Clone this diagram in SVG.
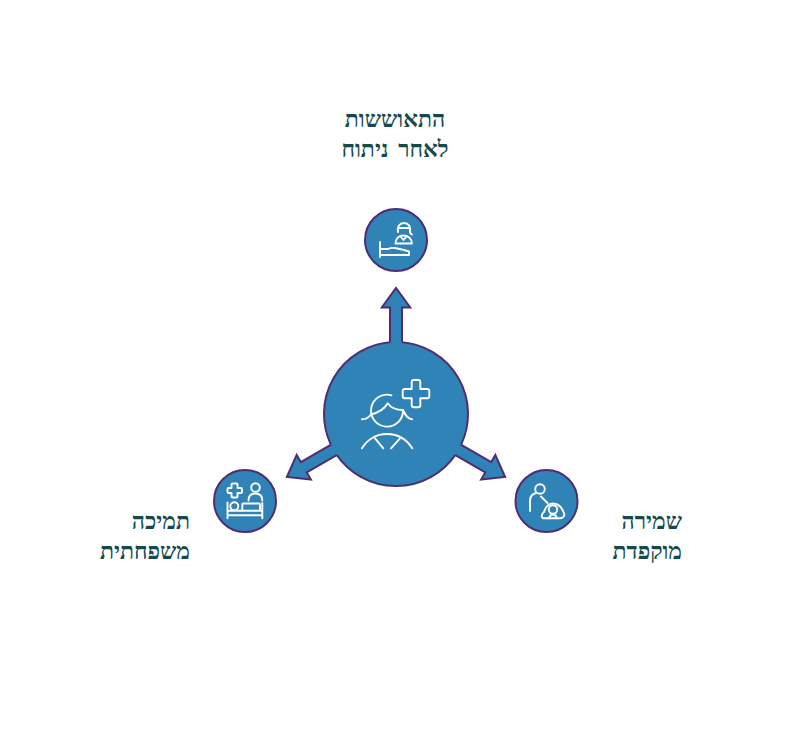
<svg xmlns="http://www.w3.org/2000/svg" width="792" height="750" viewBox="0 0 792 750">
<style>
.f{fill:#2f83b7}
.e{stroke:#4f2d72;stroke-width:2;stroke-linejoin:miter}
.i{fill:none;stroke:#fff;stroke-width:1.9;stroke-linecap:round;stroke-linejoin:round}
.t{font-family:"Liberation Serif",serif;font-size:23px;fill:#15494d;font-weight:700;word-spacing:4px}
</style>
<defs>
<polygon id="arrow" points="390,350 390,307.5 381.8,307.5 396,288 410.2,307.5 402,307.5 402,350"/>
</defs>
<rect width="792" height="750" fill="#fff"/>
<g id="connectors">
<use href="#arrow" class="f e"/>
<use href="#arrow" class="f e" transform="rotate(120 396 414)"/>
<use href="#arrow" class="f e" transform="rotate(-120 396 414)"/>
</g>
<g id="center">
<circle class="f" cx="396" cy="414" r="72"/>
<path fill="none" class="e" d="M402,342.25A72,72 0 0 1 461.15,444.66M455.14,455.07A72,72 0 0 1 336.86,455.07M330.85,444.66A72,72 0 0 1 390,342.25"/>
<g class="i">
<path d="M413.700,380h4.600a2,2 0 0 1 2,2v7h7a2,2 0 0 1 2,2v5.200a2,2 0 0 1 -2,2h-7v7a2,2 0 0 1 -2,2h-4.600a2,2 0 0 1 -2,-2v-7h-7a2,2 0 0 1 -2,-2v-5.200a2,2 0 0 1 2,-2h7v-7a2,2 0 0 1 2,-2z"/>
<path d="M391.500,395.300A16,16 0 1 0 403,410"/>
<path d="M362,419.300C367,419.500 369,417 371,414.500C377,413 384,410 387.700,403.300C391,408 397,410 403,410C405,414 407,419 412,419.300"/>
<path d="M362,448.300C367,440 376,434 387,434C398,434 407,440 412.300,448.300"/>
<path d="M375,438.300L383.300,448.300M400,438.300L391,448.300"/>
</g>
</g>
<g id="node-top">
<circle class="f e" cx="396" cy="240" r="31"/>
<g class="i">
<path d="M380,242V257M380,255H409V251.500C405,250 400,249 395,248C392,247.500 390,248 388,249H380"/>
<path d="M398,232C397,226 400,223 404,223C408,223 411,226 410,232C410,233 411,234 412,234.500"/>
<path d="M399,228H409"/>
<path d="M395.500,243.500C395.500,238.500 399,235.500 403.500,235.500C408,235.500 411.800,238.500 411.800,243.500ZM400.500,236.500L403.500,240L406.500,236.500"/>
</g>
</g>
<g id="node-left">
<circle class="f e" cx="245" cy="501" r="31"/>
<g class="i">
<path d="M232.500,483.500h4a1,1 0 0 1 1,1v3.500h3.500a1,1 0 0 1 1,1v3a1,1 0 0 1 -1,1h-3.500v3.500a1,1 0 0 1 -1,1h-4a1,1 0 0 1 -1,-1v-3.500h-3a1,1 0 0 1 -1,-1v-3a1,1 0 0 1 1,-1h3v-3.500a1,1 0 0 1 1,-1z"/>
<circle cx="255.500" cy="487.500" r="4.300"/>
<path d="M248.500,500.500C248.500,496 251,493.500 255.300,493.500C259.500,493.500 262.300,496 262.300,500.500"/>
<path d="M227.500,502.500V518.300M262.300,503V518.300M227.500,510.700H262.300M227.500,515.300H262.300"/>
<circle cx="234.300" cy="506.300" r="4"/>
<path d="M242.300,510.500V504.500a1,1 0 0 1 1,-1H259a1,1 0 0 1 1,1V510.500"/>
</g>
</g>
<g id="node-right">
<circle class="f e" cx="546.500" cy="501" r="31"/>
<g class="i">
<circle cx="540" cy="489" r="4.800"/>
<path d="M530,511V501C530,497 532,494 536,493M541,496.500L547.500,503"/>
<path d="M544,518.300C541,518.300 541,514 544,512C546,506 550,503.500 553,503.500C558,503.500 562,508 564,513C565,516 563,518.300 560,518.300Z"/>
<circle cx="553" cy="509.500" r="4.200"/>
<path d="M549,518.300C550,515 551.500,514.500 553,514.500C554.500,514.500 556,515 557,518.300"/>
</g>
</g>
<g id="label-top" class="t" text-anchor="middle">
<text x="395" y="127">התאוששות</text>
<text x="395" y="157">לאחר ניתוח</text>
</g>
<g id="label-left" class="t" text-anchor="end">
<text x="190" y="529">תמיכה</text>
<text x="190" y="559">משפחתית</text>
</g>
<g id="label-right" class="t" text-anchor="end">
<text x="682" y="529">שמירה</text>
<text x="682" y="559">מוקפדת</text>
</g>
</svg>
